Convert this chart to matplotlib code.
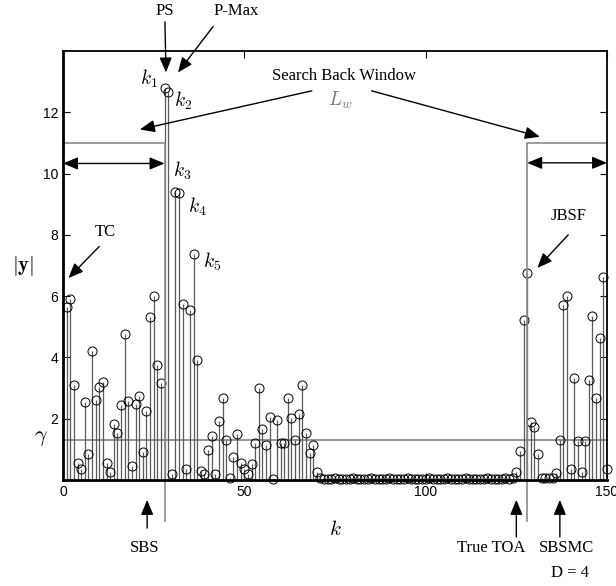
import numpy as np
import matplotlib
matplotlib.use("Agg")
import matplotlib.pyplot as plt

plt.rcParams['mathtext.fontset'] = 'cm'
plt.rcParams['font.family'] = ['Liberation Sans', 'DejaVu Sans']

# sample index and correlation magnitude |y|
k = np.arange(1, 151)
y_head = [5.65, 5.9, 3.1, 0.55, 0.35, 2.54, 0.85, 4.22, 2.6, 3.04,
          3.19, 0.57, 0.27, 1.84, 1.53, 2.46, 4.75, 2.57, 0.45, 2.48,
          2.75, 0.93, 2.24, 5.33, 6.0, 3.74, 3.15, 12.8, 12.65, 0.19,
          9.4, 9.38, 5.74, 0.35, 5.54, 7.38, 3.93, 0.3, 0.2, 0.97,
          1.42, 0.2, 1.91, 2.69, 1.29, 0.05, 0.74, 1.49, 0.57, 0.35,
          0.2, 0.51, 1.22, 3.0, 1.68, 1.15, 2.04, 0.03, 1.97, 1.2,
          1.22, 2.66, 2.03, 1.29, 2.15, 3.09, 1.53, 0.87, 1.13, 0.27]
y_quiet = [0.05, 0.04, 0.04, 0.03, 0.05, 0.04, 0.04, 0.03, 0.04, 0.05,
           0.04, 0.03, 0.04, 0.04, 0.05, 0.04, 0.03, 0.04, 0.04, 0.05,
           0.04, 0.04, 0.03, 0.04, 0.05, 0.04, 0.04, 0.03, 0.04, 0.04,
           0.05, 0.04, 0.03, 0.04, 0.04, 0.05, 0.04, 0.04, 0.03, 0.04,
           0.05, 0.04, 0.04, 0.03, 0.04, 0.04, 0.05, 0.04, 0.03, 0.04,
           0.04, 0.05, 0.04, 0.06]
y_tail = [0.27, 0.95, 5.21, 6.74, 1.88, 1.72, 0.84, 0.05, 0.05, 0.05,
          0.05, 0.22, 1.31, 5.71, 6.0, 0.35, 3.32, 1.26, 0.27, 1.26,
          3.25, 5.35, 2.68, 4.63, 6.61, 0.35]
y = np.array(y_head + y_quiet + y_tail)

gamma = 1.3
win_level = 11.0
win_left = [0, 28]
win_right = [128, 150]
x_ticks = [0, 50, 100, 150]
y_ticks = [2, 4, 6, 8, 10, 12]

fig = plt.figure(figsize=(6.16, 5.86), dpi=100)
ax = fig.add_axes([63/616, 106/586, 544/616, 429/586])

markerline, stemlines, baseline = ax.stem(k, y, linefmt='-', markerfmt='o', basefmt=' ')
stemlines.set_color('#5a5a5a')
stemlines.set_linewidth(0.9)
markerline.set_markerfacecolor('none')
markerline.set_markeredgecolor('k')
markerline.set_markeredgewidth(0.7)
markerline.set_markersize(6.5)
markerline.set_clip_on(False)

# threshold
ax.axhline(gamma, color='#777777', lw=1.1, zorder=1)

# search back windows
gray = '#8a8a8a'
ax.plot([win_left[0], win_left[1], win_left[1]], [win_level, win_level, -1.35],
        color=gray, lw=1.2, clip_on=False)
ax.plot([win_right[1], win_right[0], win_right[0]], [win_level, win_level, -1.35],
        color=gray, lw=1.2, clip_on=False)

ah = dict(arrowstyle='-|>,head_length=0.6,head_width=0.25', color='k', lw=1.0,
          mutation_scale=15, shrinkA=0, shrinkB=0)
dh = dict(arrowstyle='<|-|>,head_length=0.6,head_width=0.25', color='k', lw=1.0,
          mutation_scale=15, shrinkA=0, shrinkB=0)

def arrow(tail, head, props=ah):
    ax.annotate('', xy=head, xytext=tail, arrowprops=props, annotation_clip=False)

arrow((win_left[0], 10.33), (win_left[1], 10.33), dh)
arrow((win_right[0], 10.35), (win_right[1], 10.35), dh)

serif = dict(family=['Liberation Serif', 'DejaVu Serif'], fontsize=12)

ax.text(77.5, 13.2, 'Search Back Window', ha='center', va='center', **serif)
ax.text(76.5, 12.4, r'$L_w$', ha='center', va='center', fontsize=14, color='#777777')
arrow((68.6, 12.7), (21.2, 11.44))
arrow((85.1, 12.7), (131.5, 11.2))

ax.text(28.1, 15.3, 'PS', ha='center', va='center', **serif)
arrow((28.1, 14.95), (28.4, 13.3))
ax.text(47.7, 15.3, 'P-Max', ha='center', va='center', **serif)
arrow((41.4, 14.8), (31.7, 13.3))

ax.text(11.6, 8.1, 'TC', ha='center', va='center', **serif)
arrow((10.0, 7.62), (1.5, 6.59))
ax.text(139.3, 8.6, 'JBSF', ha='center', va='center', **serif)
arrow((139.3, 8.0), (130.8, 6.92))

for lab, (xk, yk) in zip([r'$k_1$', r'$k_2$', r'$k_3$', r'$k_4$', r'$k_5$'],
                         [(23.8, 13.1), (33.2, 12.36), (33.0, 10.08), (36.9, 8.93), (41.2, 7.13)]):
    ax.text(xk, yk, lab, ha='center', va='center', fontsize=14)

# annotations below the axis
arrow((23.2, -1.57), (23.2, -0.65))
ax.text(22.6, -2.22, 'SBS', ha='center', va='center', **serif)
arrow((125, -1.86), (125, -0.65))
ax.text(118.0, -2.22, 'True TOA', ha='center', va='center', **serif)
arrow((137, -1.86), (137, -0.65))
ax.text(138.9, -2.22, 'SBSMC', ha='center', va='center', **serif)
ax.text(139.7, -3.04, 'D = 4', ha='center', va='center', **serif)

ax.text(75, -1.63, r'$k$', ha='center', va='center', fontsize=15)
ax.text(-11.0, 7.0, r'$|\mathbf{y}|$', ha='center', va='center', fontsize=15)
ax.text(-6.0, 1.4, r'$\gamma$', ha='center', va='center', fontsize=16)

ax.set_xlim(0, 150)
ax.set_ylim(0, 14)
ax.set_xticks(x_ticks)
ax.set_yticks(y_ticks)
ax.tick_params(direction='in', length=5, width=0.8, labelsize=10,
               top=True, right=True)
for s in ax.spines.values():
    s.set_linewidth(1.3)
ax.spines['bottom'].set_linewidth(2.0)
ax.spines['left'].set_linewidth(2.0)

fig.savefig('out.png', dpi=100)
